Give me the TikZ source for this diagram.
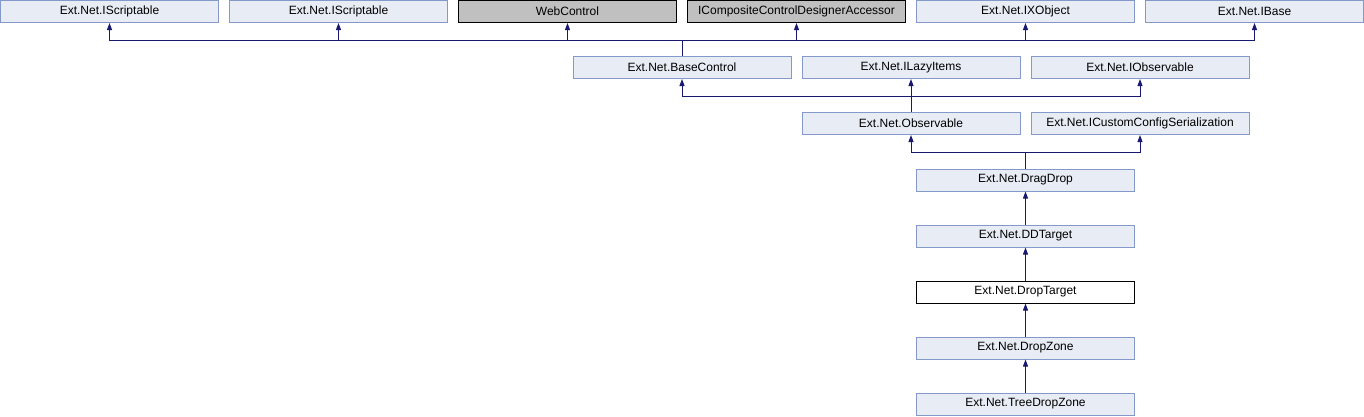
\documentclass[tikz,border=0pt]{standalone}
\usepackage{fontspec}
\setmainfont{Liberation Sans}
\usetikzlibrary{arrows.meta}
\definecolor{boxfill}{HTML}{E8ECF5}
\definecolor{boxline}{HTML}{8498C9}
\definecolor{grayfill}{HTML}{C0C0C0}
\definecolor{arrowcol}{HTML}{191970}
\tikzset{
  cls/.style={draw=boxline, fill=boxfill, line width=1pt, minimum width=218pt, minimum height=22pt, inner sep=0pt, font=\fontsize{12}{14}\selectfont},
  ext/.style={cls, draw=black, fill=grayfill},
  cur/.style={cls, draw=black, fill=white},
  conn/.style={draw=arrowcol, line width=1pt},
  arr/.style={conn, -{Triangle[length=7pt,width=5pt]}},
}
\begin{document}
\begin{tikzpicture}[x=1pt,y=-1pt]
\useasboundingbox (0,0) rectangle (1364,416);
% row 0
\node[cls] (is1) at (109.5,11.5) {Ext.Net.IScriptable};
\node[cls] (is2) at (338.5,11.5) {Ext.Net.IScriptable};
\node[ext] (wc)  at (567.5,11.5) {WebControl};
\node[ext] (icc) at (796.5,11.5) {ICompositeControlDesignerAccessor};
\node[cls] (ixo) at (1025.5,11.5) {Ext.Net.IXObject};
\node[cls] (ib)  at (1254.5,11.5) {Ext.Net.IBase};
% row 1
\node[cls] (bc)  at (682,67.5) {Ext.Net.BaseControl};
\node[cls] (ili) at (911,67.5) {Ext.Net.ILazyItems};
\node[cls] (iob) at (1140,67.5) {Ext.Net.IObservable};
% row 2
\node[cls] (obs) at (911,123.5) {Ext.Net.Observable};
\node[cls] (iccs) at (1140,123.5) {Ext.Net.ICustomConfigSerialization};
% chain
\node[cls] (dd)  at (1025.5,180) {Ext.Net.DragDrop};
\node[cls] (ddt) at (1025.5,236) {Ext.Net.DDTarget};
\node[cur] (dt)  at (1025.5,292) {Ext.Net.DropTarget};
\node[cls] (dz)  at (1025.5,348) {Ext.Net.DropZone};
\node[cls] (tdz) at (1025.5,404) {Ext.Net.TreeDropZone};
% junctions
\coordinate (j0) at (682,40);
\coordinate (j1) at (911,96.5);
\coordinate (j2) at (1025.5,152);
\draw[conn] (bc.north) -- (j0);
\foreach \p in {is1,is2,wc,icc,ixo,ib} \draw[arr] (j0) -| (\p.south);
\draw[conn] (obs.north) -- (j1);
\foreach \p in {bc,ili,iob} \draw[arr] (j1) -| (\p.south);
\draw[conn] (dd.north) -- (j2);
\foreach \p in {obs,iccs} \draw[arr] (j2) -| (\p.south);
\draw[arr] (ddt.north) -- (dd.south);
\draw[arr] (dt.north) -- (ddt.south);
\draw[arr] (dz.north) -- (dt.south);
\draw[arr] (tdz.north) -- (dz.south);
\end{tikzpicture}
\end{document}
